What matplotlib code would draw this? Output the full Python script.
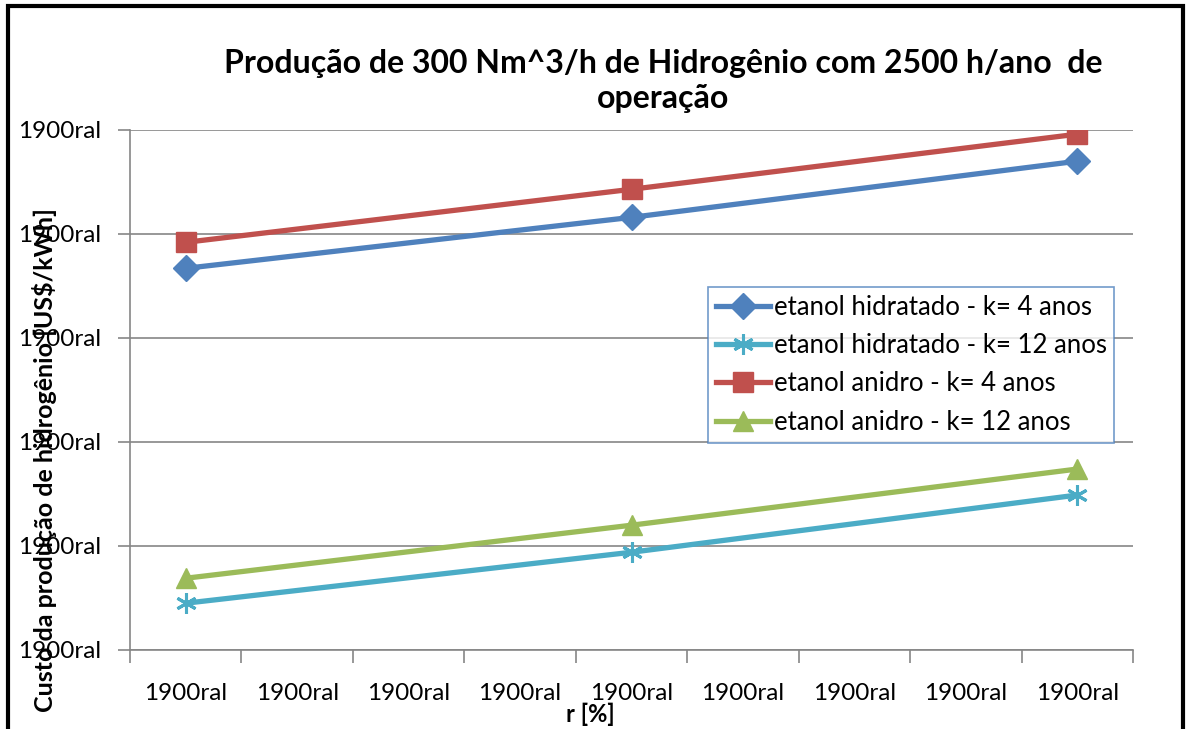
import matplotlib.pyplot as plt
import matplotlib.ticker as ticker
import numpy as np

# Data (y; axis runs 0..0.5, every tick label shows "1900ral")
categories = ["1900ral"] * 9
x_idx = [0, 4, 8]
hidratado_4 = [0.367, 0.416, 0.470]
hidratado_12 = [0.045, 0.094, 0.149]
anidro_4 = [0.392, 0.443, 0.496]
anidro_12 = [0.069, 0.120, 0.174]
y_ticks = [0.0, 0.1, 0.2, 0.3, 0.4, 0.5]
y_tick_labels = ["1900ral"] * 6

plt.rcParams['font.family'] = ['Lato', 'DejaVu Sans']

fig = plt.figure(figsize=(11.87, 7.29), dpi=100)
ax = fig.add_axes([130 / 1187, 1 - 650 / 729, 1003 / 1187, 520 / 729])

# Series
ax.plot(x_idx, hidratado_4, color='#4F81BD', lw=3.8, marker='D', ms=13,
        label='etanol hidratado - k= 4 anos', zorder=3)
ax.plot(x_idx, hidratado_12, color='#4BACC6', lw=3.8, marker=(6, 2, 0), ms=15,
        mew=2.2, label='etanol hidratado - k= 12 anos', zorder=3)
ax.plot(x_idx, anidro_4, color='#C0504D', lw=3.8, marker='s', ms=14,
        label='etanol anidro - k= 4 anos', zorder=3)
ax.plot(x_idx, anidro_12, color='#9BBB59', lw=3.8, marker='^', ms=15,
        label='etanol anidro - k= 12 anos', zorder=3)

# Axes
ax.set_xlim(-0.5, 8.5)
ax.set_ylim(0, 0.5)
ax.set_xticks(range(len(categories)))
ax.set_xticklabels(categories, fontsize=17.5)
ax.xaxis.set_minor_locator(ticker.FixedLocator(np.arange(-0.5, 9, 1)))
ax.tick_params(axis='x', which='major', length=0, pad=24)
ax.tick_params(axis='x', which='minor', length=9, color='#868686', width=1.2)
ax.set_yticks(y_ticks)
ax.set_yticklabels(y_tick_labels, fontsize=17.5)
ax.tick_params(axis='y', length=9, color='#868686', width=1.2, pad=12)

for side in ['top', 'right']:
    ax.spines[side].set_visible(False)
for side in ['left', 'bottom']:
    ax.spines[side].set_color('#868686')
    ax.spines[side].set_linewidth(1.2)

# Grid
ax.yaxis.grid(True, color='#868686', lw=1.2)
ax.set_axisbelow(True)

# Labels
fig.text(590 / 1187, 1 - 714 / 729, 'r [%]', ha='center', va='center',
         fontsize=17, fontweight='bold')
fig.text(45 / 1187, 1 - 460 / 729, 'Custo da produção de hidrogênio [US$/kWh]',
         rotation=90, ha='center', va='center', fontsize=18, fontweight='bold')
fig.text(663 / 1187, 1 - 81 / 729,
         'Produção de 300 Nm^3/h de Hidrogênio com 2500 h/ano  de\noperação',
         ha='center', va='center', fontsize=23, fontweight='bold',
         linespacing=1.25)

# Legend
leg = ax.legend(loc='upper left', bbox_to_anchor=(578 / 1003, 1 - 157 / 520),
                fontsize=18.5, frameon=True, fancybox=False, handlelength=2.1,
                handletextpad=0.15, borderpad=0.3, labelspacing=0.52,
                borderaxespad=0)
leg.get_frame().set_edgecolor('#4F81BD')
leg.get_frame().set_linewidth(1.2)

# Outer chart border
fig.patches.append(plt.Rectangle((8 / 1187, -0.05), 1175 / 1187, 1.05 - 6 / 729,
                                 transform=fig.transFigure, fill=False,
                                 edgecolor='black', lw=3))

fig.savefig('out.png', dpi=100)
